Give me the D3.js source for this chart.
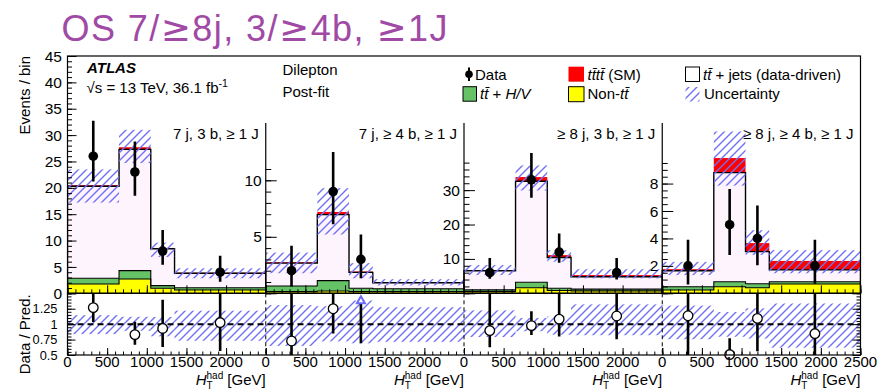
<!DOCTYPE html>
<html><head><meta charset="utf-8">
<script src="https://cdn.jsdelivr.net/npm/d3@7"></script>
<style>
html,body{margin:0;padding:0;background:#fff;}
svg{display:block;font-family:"Liberation Sans",Arial,Helvetica,sans-serif;}
</style></head><body>
<svg id="c" width="881" height="390"></svg>
<script>
// ---------------- data ----------------
const binEdges = [0, 650, 1050, 1350, 2500];
const regionLabels = ["7 j, 3 b, \u2265 1 J", "7 j, \u2265 4 b, \u2265 1 J", "\u2265 8 j, 3 b, \u2265 1 J", "\u2265 8 j, \u2265 4 b, \u2265 1 J"];
const yDomainMax = [45, 21, 69, 17.3];
// stacked components per region, per bin
const nonTT  = [[1.75, 2.7, 0.95, 0.63], [0.15, 0.2, 0.15, 0.15], [0.5, 1.6, 0.8, 0.7], [0.24, 0.48, 0.4, 0.68]];
const ttHV   = [[1.1, 1.6, 0.5, 0.43], [0.5, 0.92, 0.3, 0.25], [0.5, 1.6, 0.65, 0.5], [0.24, 0.36, 0.3, 0.16]];
const ttJets = [[17.45, 23.0, 7.01, 2.74], [2.02, 5.84, 1.4, 0.54], [5.55, 29.4, 8.95, 3.6], [1.16, 7.96, 2.34, 0.87]];
const tttt   = [[0.2, 0.4, 0.14, 0.1], [0.08, 0.24, 0.08, 0.04], [0.15, 1.2, 0.7, 0.5], [0.12, 1.06, 0.62, 0.65]];
const uncHigh = [[23.5, 31, 9.6, 4.75], [3.6, 9.3, 2.67, 1.25], [8.2, 37.2, 12.5, 7.0], [2.29, 11.8, 4.6, 3.15]];
const uncLow  = [[17.2, 24.7, 6.9, 2.85], [1.78, 5.2, 1.33, 0.7], [5.3, 29.9, 9.2, 4.35], [1.33, 7.85, 2.8, 1.46]];
const dataCounts = [[26, 23, 8, 4], [2, 9, 3, 0], [6, 33, 12, 6], [2, 5, 4, 2]];
const dataHigh = [[32.7, 28.8, 12, 7.1], [4.2, 12.5, 5.2, 1.8], [10.3, 40.8, 17.4, 10.3], [3.9, 7.6, 6.4, 3.9]];
const dataLow  = [[21.2, 18.5, 5.4, 2.2], [0.6, 6.1, 1.33, 0], [4.2, 27.8, 8.9, 4.0], [0.65, 2.8, 2.05, 0.7]];
const xTickLabels = [[0, 500, 1000, 1500, 2000], [0, 500, 1000, 1500, 2000], [0, 500, 1000, 1500, 2000], [0, 500, 1000, 1500, 2000, 2500]];
const mainYTickLabels = [0, 5, 10, 15, 20, 25, 30, 35, 40, 45];
const subYTickLabels = [[5, 10], [10, 20, 30], [2, 4, 6, 8]];
const subYSteps = [[5, 1], [10, 2], [2, 0.5]];
const ratioTickLabels = [0.5, 0.75, 1, 1.25];

// ---------------- layout ----------------
const L = 67.5, R = 860.5, T = 56, MB = 293.3, RB = 355;
const PW = (R - L) / 4;
const C = {yellow: "#ffff00", green: "#66c266", pink: "#fdf4fd", red: "#ff0000", hatch: "#7070f2"};

const svg = d3.select("#c");
svg.append("rect").attr("width", 881).attr("height", 390).attr("fill", "#fff");
const defs = svg.append("defs");
const pat = defs.append("pattern").attr("id", "hatch").attr("patternUnits", "userSpaceOnUse")
  .attr("width", 8).attr("height", 8);
pat.append("path").attr("d", "M-2,2 L2,-2 M0,8 L8,0 M6,10 L10,6")
  .attr("stroke", C.hatch).attr("stroke-width", 1.4).attr("fill", "none");
defs.append("clipPath").attr("id", "clipMain").append("rect").attr("x", L).attr("y", T).attr("width", R - L).attr("height", MB - T);
defs.append("clipPath").attr("id", "clipRatio").append("rect").attr("x", L).attr("y", MB).attr("width", R - L).attr("height", RB - MB);

const gMain = svg.append("g").attr("clip-path", "url(#clipMain)");
const gRatio = svg.append("g").attr("clip-path", "url(#clipRatio)");
const gTop = svg.append("g");
const ry = d3.scaleLinear().domain([0.5, 1.5]).range([RB, MB]);

const panels = d3.range(4);
const xScales = panels.map(p => d3.scaleLinear().domain([0, 2500]).range([L + p * PW, L + (p + 1) * PW]));
const yScales = panels.map(p => d3.scaleLinear().domain([0, yDomainMax[p]]).range([MB, T]));

function stepPath(x, y, levels) {
  const p = d3.path();
  p.moveTo(x(binEdges[0]), y(0));
  levels.forEach((v, i) => { p.lineTo(x(binEdges[i]), y(v)); p.lineTo(x(binEdges[i + 1]), y(v)); });
  p.lineTo(x(binEdges[binEdges.length - 1]), y(0));
  return p.toString();
}

panels.forEach(p => {
  const x = xScales[p], y = yScales[p];
  const bins = d3.range(4).map(i => {
    const l1 = nonTT[p][i], l2 = l1 + ttHV[p][i], l3 = l2 + ttJets[p][i], l4 = l3 + tttt[p][i];
    return {i, a: binEdges[i], b: binEdges[i + 1], c: (binEdges[i] + binEdges[i + 1]) / 2, l1, l2, l3, l4};
  });
  const layers = [["l0", "l1", C.yellow], ["l1", "l2", C.green], ["l2", "l3", C.pink], ["l3", "l4", C.red]];
  layers.forEach(([lo, hi, col]) => {
    gMain.append("g").selectAll("rect").data(bins).join("rect")
      .attr("x", d => x(d.a)).attr("width", d => x(d.b) - x(d.a))
      .attr("y", d => y(d[hi])).attr("height", d => y(lo === "l0" ? 0 : d[lo]) - y(d[hi]))
      .attr("fill", col);
  });
  ["l1", "l2", "l3"].forEach(k => {
    gMain.append("path").attr("d", stepPath(x, y, bins.map(d => d[k])))
      .attr("fill", "none").attr("stroke", "#000").attr("stroke-width", k === "l3" ? 1.4 : 1.1);
  });
  // uncertainty hatch
  gMain.append("g").selectAll("rect").data(bins).join("rect")
    .attr("x", d => x(d.a)).attr("width", d => x(d.b) - x(d.a))
    .attr("y", d => y(uncHigh[p][d.i])).attr("height", d => y(uncLow[p][d.i]) - y(uncHigh[p][d.i]))
    .attr("fill", "url(#hatch)");
  // data
  const dat = bins.filter(d => dataCounts[p][d.i] > 0);
  gMain.append("g").selectAll("line").data(dat).join("line")
    .attr("x1", d => x(d.c)).attr("x2", d => x(d.c))
    .attr("y1", d => y(dataLow[p][d.i])).attr("y2", d => y(dataHigh[p][d.i]))
    .attr("stroke", "#000").attr("stroke-width", 2.6);
  gMain.append("g").selectAll("circle").data(dat).join("circle")
    .attr("cx", d => x(d.c)).attr("cy", d => y(dataCounts[p][d.i])).attr("r", 4.8).attr("fill", "#000");

  // ratio band
  gRatio.append("g").selectAll("rect").data(bins).join("rect")
    .attr("x", d => x(d.a)).attr("width", d => x(d.b) - x(d.a))
    .attr("y", d => ry(uncHigh[p][d.i] / d.l4)).attr("height", d => ry(uncLow[p][d.i] / d.l4) - ry(uncHigh[p][d.i] / d.l4))
    .attr("fill", "url(#hatch)");
});

// ratio line at 1
gRatio.append("line").attr("x1", L).attr("x2", R).attr("y1", ry(1)).attr("y2", ry(1))
  .attr("stroke", "#000").attr("stroke-width", 2).attr("stroke-dasharray", "6,4");
// separators in ratio
panels.slice(1).forEach(p => {
  gRatio.append("line").attr("x1", xScales[p](0)).attr("x2", xScales[p](0)).attr("y1", MB).attr("y2", RB)
    .attr("stroke", "#000").attr("stroke-width", 1).attr("stroke-dasharray", "4,3");
});

// ratio points
panels.forEach(p => {
  const x = xScales[p];
  d3.range(4).forEach(i => {
    const n = dataCounts[p][i];
    if (n <= 0) return;
    const tot = nonTT[p][i] + ttHV[p][i] + ttJets[p][i] + tttt[p][i];
    const r = n / tot, rlo = dataLow[p][i] / tot, rhi = dataHigh[p][i] / tot;
    const cx = x((binEdges[i] + binEdges[i + 1]) / 2);
    if (r >= 1.5) {
      gRatio.append("line").attr("x1", cx).attr("x2", cx).attr("y1", ry(rlo)).attr("y2", MB + 10)
        .attr("stroke", "#000").attr("stroke-width", 2.6);
      gTop.append("path").attr("d", `M${cx},${MB + 3} L${cx - 4},${MB + 10} L${cx + 4},${MB + 10} Z`)
        .attr("fill", "#fff").attr("stroke", "#6b6bff").attr("stroke-width", 2);
    } else {
      gRatio.append("line").attr("x1", cx).attr("x2", cx).attr("y1", ry(rlo)).attr("y2", ry(rhi))
        .attr("stroke", "#000").attr("stroke-width", 2.6);
      gTop.append("circle").attr("cx", cx).attr("cy", ry(r)).attr("r", 4.8)
        .attr("fill", "#fff").attr("stroke", "#000").attr("stroke-width", 1.3);
    }
  });
});

// frames
svg.append("rect").attr("x", L).attr("y", T).attr("width", R - L).attr("height", MB - T)
  .attr("fill", "none").attr("stroke", "#000").attr("stroke-width", 1.2);
svg.append("rect").attr("x", L).attr("y", MB).attr("width", R - L).attr("height", RB - MB)
  .attr("fill", "none").attr("stroke", "#000").attr("stroke-width", 1.2);

// main axis panel 1
const axG = svg.append("g");
function cleanAxis(g) { g.select(".domain").remove(); g.selectAll("text").remove(); g.selectAll("line").attr("stroke", "#000").attr("stroke-width", 1); }
const y0 = yScales[0];
axG.append("g").attr("transform", `translate(${L},0)`)
  .call(d3.axisLeft(y0).tickValues(d3.range(0, 45.01, 1)).tickSizeInner(-4.5).tickSizeOuter(0)).call(cleanAxis);
axG.append("g").attr("transform", `translate(${L},0)`)
  .call(d3.axisLeft(y0).tickValues(mainYTickLabels).tickSizeInner(-9).tickSizeOuter(0)).call(cleanAxis);
axG.selectAll(".yl0").data(mainYTickLabels).join("text").attr("class", "yl0")
  .attr("x", L - 5.5).attr("y", d => y0(d)).attr("dy", "0.36em").attr("text-anchor", "end")
  .attr("font-size", 15.5).text(d => d);

// sub axes
panels.slice(1).forEach((p, k) => {
  const y = yScales[p], xa = xScales[p](0);
  const [maj, mino] = subYSteps[k];
  const topVal = y.invert(158.5);
  axG.append("line").attr("x1", xa).attr("x2", xa).attr("y1", 123).attr("y2", MB).attr("stroke", "#000").attr("stroke-width", 1.2);
  axG.append("g").attr("transform", `translate(${xa},0)`)
    .call(d3.axisLeft(y).tickValues(d3.range(0, topVal, mino)).tickSizeInner(-5.5).tickSizeOuter(0)).call(cleanAxis);
  axG.append("g").attr("transform", `translate(${xa},0)`)
    .call(d3.axisLeft(y).tickValues(d3.range(0, topVal, maj)).tickSizeInner(-11).tickSizeOuter(0)).call(cleanAxis);
  axG.append("g").selectAll("text").data(subYTickLabels[k]).join("text")
    .attr("x", xa - 4).attr("y", d => y(d)).attr("dy", "0.36em").attr("text-anchor", "end")
    .attr("font-size", 15.5).text(d => d);
});

// ratio y axis
axG.append("g").attr("transform", `translate(${L},0)`)
  .call(d3.axisLeft(ry).tickValues(d3.range(0.5, 1.5001, 0.05)).tickSizeInner(-4).tickSizeOuter(0)).call(cleanAxis);
axG.append("g").attr("transform", `translate(${L},0)`)
  .call(d3.axisLeft(ry).tickValues([0.5, 0.75, 1, 1.25, 1.5]).tickSizeInner(-8).tickSizeOuter(0)).call(cleanAxis);
axG.append("g").attr("transform", `translate(${R},0)`)
  .call(d3.axisRight(ry).tickValues(d3.range(0.5, 1.5001, 0.05)).tickSizeInner(-4).tickSizeOuter(0)).call(cleanAxis);
axG.append("g").attr("transform", `translate(${R},0)`)
  .call(d3.axisRight(ry).tickValues([0.5, 0.75, 1, 1.25, 1.5]).tickSizeInner(-8).tickSizeOuter(0)).call(cleanAxis);
axG.append("g").selectAll("text").data(ratioTickLabels).join("text")
  .attr("x", L - 10).attr("y", d => ry(d)).attr("dy", "0.36em").attr("text-anchor", "end")
  .attr("font-size", 12.8).text(d => d);

// x axes
panels.forEach(p => {
  const x = xScales[p];
  const minor = d3.range(0, 2500.1, 100), major = d3.range(0, 2500.1, 500);
  [[MB, 4, 8], [RB, 3.5, 7]].forEach(([yy, smin, smaj]) => {
    axG.append("g").attr("transform", `translate(0,${yy})`)
      .call(d3.axisBottom(x).tickValues(minor).tickSizeInner(-smin).tickSizeOuter(0)).call(cleanAxis);
    axG.append("g").attr("transform", `translate(0,${yy})`)
      .call(d3.axisBottom(x).tickValues(major).tickSizeInner(-smaj).tickSizeOuter(0)).call(cleanAxis);
  });
  axG.append("g").selectAll("text").data(xTickLabels[p]).join("text")
    .attr("x", d => x(d)).attr("y", 366.5).attr("text-anchor", "middle").attr("font-size", 15).text(d => d);
  // x title
  const t = axG.append("text").attr("y", 385).attr("font-size", 15);
  t.append("tspan").attr("font-style", "italic").text("H");
  t.append("tspan").attr("font-size", 10).attr("dy", -6.5).text("had");
  t.append("tspan").attr("font-size", 10).attr("dx", -16.7).attr("dy", 10).text("T");
  t.append("tspan").attr("dx", 10.6).attr("dy", -3.5).text(" [GeV]");
  t.attr("x", 0);
  const bb = t.node().getBBox();
  t.attr("x", x(2500) - (bb.x + bb.width));
  // region label
  gTop.append("text").attr("x", x(2500) - 7).attr("y", 138.5).attr("text-anchor", "end")
    .attr("font-size", 15).text(regionLabels[p]);
});

// axis titles
svg.append("text").attr("transform", `translate(29.5,${T}) rotate(-90)`).attr("text-anchor", "end")
  .attr("font-size", 15).text("Events / bin");
svg.append("text").attr("transform", `translate(29.5,${MB + 1}) rotate(-90)`).attr("text-anchor", "end")
  .attr("font-size", 15).text("Data / Pred.");

// title
const title = svg.append("text").attr("x", 61.5).attr("y", 40.7).attr("font-size", 36).attr("fill", "#a04aa6")
  .attr("textLength", 386).attr("lengthAdjust", "spacing");
["OS 7/", "\u2265", "8j, 3/", "\u2265", "4b, ", "\u2265", "1J"].forEach(s => {
  const ts = title.append("tspan").text(s);
  if (s === "\u2265") ts.attr("font-family", "DejaVu Sans");
});

// ATLAS labels
const lab = svg.append("g").attr("font-size", 15);
lab.append("text").attr("x", 87).attr("y", 73.3).attr("font-weight", "bold").attr("font-style", "italic").text("ATLAS");
const en = lab.append("text").attr("x", 86.5).attr("y", 93.3);
en.append("tspan").text("\u221As = 13 TeV, 36.1 fb");
en.append("tspan").attr("font-size", 10.5).attr("dy", -6).text("-1");
lab.append("text").attr("x", 282.5).attr("y", 75).text("Dilepton");
lab.append("text").attr("x", 282.5).attr("y", 96.7).text("Post-fit");

// legend
const lg = svg.append("g").attr("font-size", 15);
const r1 = 80.3, r2 = 98.5;
lg.append("line").attr("x1", 469).attr("x2", 469).attr("y1", 67.5).attr("y2", 81).attr("stroke", "#000").attr("stroke-width", 2);
lg.append("circle").attr("cx", 469).attr("cy", 74.3).attr("r", 3.8).attr("fill", "#000");
lg.append("text").attr("x", 475).attr("y", r1).text("Data");
lg.append("rect").attr("x", 463).attr("y", 86.7).attr("width", 13.5).attr("height", 14.5).attr("fill", C.green).attr("stroke", "#000").attr("stroke-width", 1);
const tHV = lg.append("text").attr("x", 480).attr("y", r2).attr("font-style", "italic");
tHV.append("tspan").text("tt\u0304");
tHV.append("tspan").attr("font-style", "normal").text(" + ");
tHV.append("tspan").text("H/V");
lg.append("rect").attr("x", 568.5).attr("y", 66.7).attr("width", 15.5).attr("height", 15).attr("fill", C.red);
const t4 = lg.append("text").attr("x", 587.5).attr("y", r1);
t4.append("tspan").attr("font-style", "italic").text("tt\u0304tt\u0304");
t4.append("tspan").text(" (SM)");
lg.append("rect").attr("x", 568.5).attr("y", 86.7).attr("width", 15.5).attr("height", 15).attr("fill", C.yellow).attr("stroke", "#000").attr("stroke-width", 1);
const tn = lg.append("text").attr("x", 587.5).attr("y", r2);
tn.append("tspan").text("Non-");
tn.append("tspan").attr("font-style", "italic").text("tt\u0304");
lg.append("rect").attr("x", 685.5).attr("y", 67).attr("width", 14).attr("height", 14.5).attr("fill", "#fff").attr("stroke", "#000").attr("stroke-width", 1);
const tj = lg.append("text").attr("x", 703).attr("y", r1);
tj.append("tspan").attr("font-style", "italic").text("tt\u0304");
tj.append("tspan").text(" + jets (data-driven)");
lg.append("rect").attr("x", 685.5).attr("y", 87).attr("width", 14).attr("height", 14.5).attr("fill", "url(#hatch)");
lg.append("text").attr("x", 704).attr("y", r2).text("Uncertainty");
</script>
</body></html>
